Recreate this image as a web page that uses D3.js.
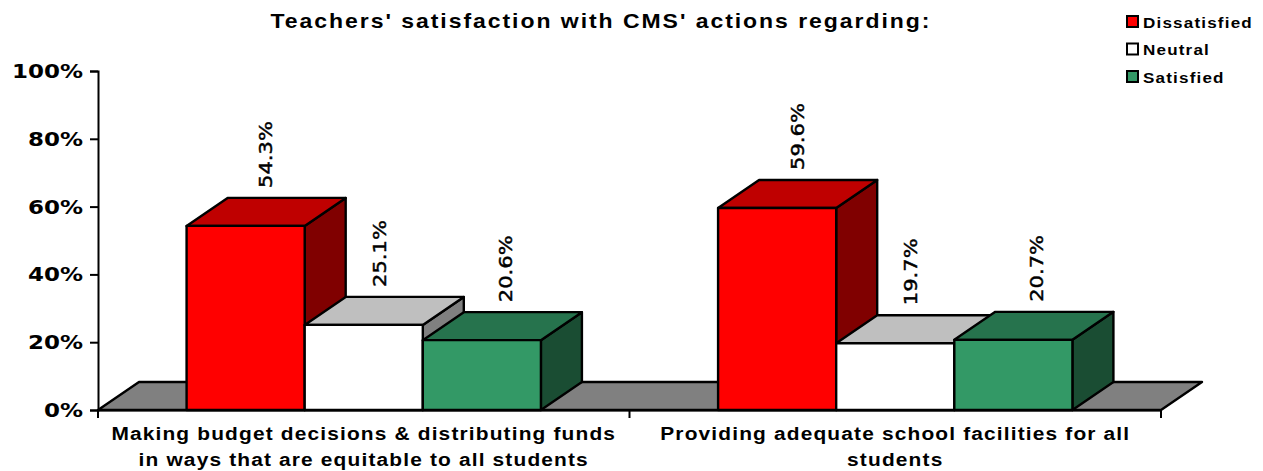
<!DOCTYPE html>
<html>
<head>
<meta charset="utf-8">
<script src="https://cdn.jsdelivr.net/npm/d3@7"></script>
<style>
  html, body { margin: 0; background: #fff; }
  text { font-family: "Liberation Sans", sans-serif; font-weight: bold; fill: #000; }
  .tick-label { font-family: "DejaVu Sans", sans-serif; }
  .value-label { font-family: "DejaVu Sans", sans-serif; font-weight: normal; stroke: #000; stroke-width: 0.45px; }
</style>
</head>
<body>
<div id="chart"></div>
<script>
// values
const categories = ["cat1", "cat2"];
const categoryLines = [
    ["Making budget decisions & distributing funds", "in ways that are equitable to all students"],
    ["Providing adequate school facilities for all", "students"]
];
const seriesNames = ["Dissatisfied", "Neutral", "Satisfied"];
const dissatisfied = [54.3, 59.6];
const neutral = [25.1, 19.7];
const satisfied = [20.6, 20.7];
const seriesValues = [dissatisfied, neutral, satisfied];
const yTicks = [0, 20, 40, 60, 80, 100];
const title = "Teachers' satisfaction with CMS' actions regarding:";

const frontColors = ["#ff0000", "#ffffff", "#339966"];
const topColors = ["#bf0000", "#bfbfbf", "#26734d"];
const sideColors = ["#800000", "#808080", "#1a4d33"];
const labelNudge = [-0.5, -5, 3]; // Beschriftungen sitzen nicht exakt mittig

const width = 1263, height = 471;
const depthX = 41, depthY = -28; // 3D-Versatz

const svg = d3.select("#chart").append("svg")
    .attr("width", width)
    .attr("height", height)
    .style("display", "block");

const y = d3.scaleLinear().domain([0, 100]).range([410, 71]);
const x = d3.scaleBand().domain(categories).range([98, 1161]);
const xInner = d3.scaleBand().domain(seriesNames)
    .range([0, x.bandwidth()])
    .paddingInner(0)
    .paddingOuter(0.75);

// text stretched sideways and spaced, the original font is wider
function wideText(str, px, py, size, sx, spacing, anchor) {
    return svg.append("text")
        .attr("transform", `translate(${px},${py}) scale(${sx},1)`)
        .attr("text-anchor", anchor)
        .style("font-size", size + "px")
        .style("letter-spacing", spacing + "px")
        .text(str);
}

function poly(points, fill) {
    svg.append("polygon")
        .attr("points", points.map(p => p.join(",")).join(" "))
        .attr("fill", fill)
        .attr("stroke", "#000")
        .attr("stroke-width", 2.4)
        .attr("stroke-linejoin", "round");
}

// Boden
const [x0, x1] = x.range();
poly([[x0, y(0)], [x0 + depthX, y(0) + depthY], [x1 + depthX, y(0) + depthY], [x1, y(0)]], "#808080");

// Balken von links nach rechts, damit die Überlappung stimmt
categories.forEach((cat, c) => {
    seriesNames.forEach((name, s) => {
        const left = x(cat) + xInner(name);
        const right = left + xInner.bandwidth();
        const top = y(seriesValues[s][c]);
        const base = y(0);
        poly([[right, base], [right + depthX, base + depthY], [right + depthX, top + depthY], [right, top]], sideColors[s]);
        poly([[left, top], [left + depthX, top + depthY], [right + depthX, top + depthY], [right, top]], topColors[s]);
        poly([[left, base], [left, top], [right, top], [right, base]], frontColors[s]);
    });
});

// Werte
categories.forEach((cat, c) => {
    seriesNames.forEach((name, s) => {
        const cx = x(cat) + xInner(name) + xInner.bandwidth() / 2 + depthX / 2 + labelNudge[s];
        const top = y(seriesValues[s][c]) + depthY;
        svg.append("text")
            .attr("class", "value-label")
            .attr("transform", `translate(${cx + 6.5},${top - 10}) rotate(-90) scale(1.17,1)`)
            .style("font-size", "18px")
            .text(seriesValues[s][c].toFixed(1) + "%");
    });
});

// y-Achse
const yAxis = svg.append("g")
    .attr("transform", `translate(${x0},0)`)
    .call(d3.axisLeft(y).tickValues(yTicks).tickSize(8).tickFormat(""));
yAxis.select(".domain").attr("stroke", "#000").attr("stroke-width", 2);
yAxis.selectAll(".tick line").attr("stroke", "#000").attr("stroke-width", 2);
yTicks.forEach(t => {
    svg.append("text")
        .attr("class", "tick-label")
        .attr("transform", `translate(83,${y(t) + 7}) scale(1.21,1)`)
        .attr("text-anchor", "end")
        .style("font-size", "19px")
        .text(t + "%");
});

// x-Achse
const xAxis = svg.append("g")
    .attr("transform", `translate(0,${y(0)})`)
    .call(d3.axisBottom(x).tickValues([]).tickSizeOuter(0));
xAxis.select(".domain").attr("stroke", "#000").attr("stroke-width", 2);
[x0, x(categories[1]), x1].forEach(px => {
    svg.append("line")
        .attr("x1", px).attr("x2", px)
        .attr("y1", y(0)).attr("y2", y(0) + 8)
        .attr("stroke", "#000").attr("stroke-width", 2);
});

categoryLines.forEach((lines, c) => {
    const cx = x(categories[c]) + x.bandwidth() / 2;
    lines.forEach((line, i) => {
        wideText(line, cx, 440 + i * 26, 19, 1.1, 1.05, "middle");
    });
});

// Titel
wideText(title, 601, 28, 20, 1.15, 1.7, "middle");

// Legende
seriesNames.forEach((name, s) => {
    const ly = 22 + s * 27.5;
    svg.append("rect")
        .attr("x", 1127).attr("y", ly - 6)
        .attr("width", 11).attr("height", 11)
        .attr("fill", frontColors[s])
        .attr("stroke", "#000")
        .attr("stroke-width", 2);
    wideText(name, 1143, ly + 5.6, 15.5, 1.1, 1.08, "start");
});
</script>
</body>
</html>
